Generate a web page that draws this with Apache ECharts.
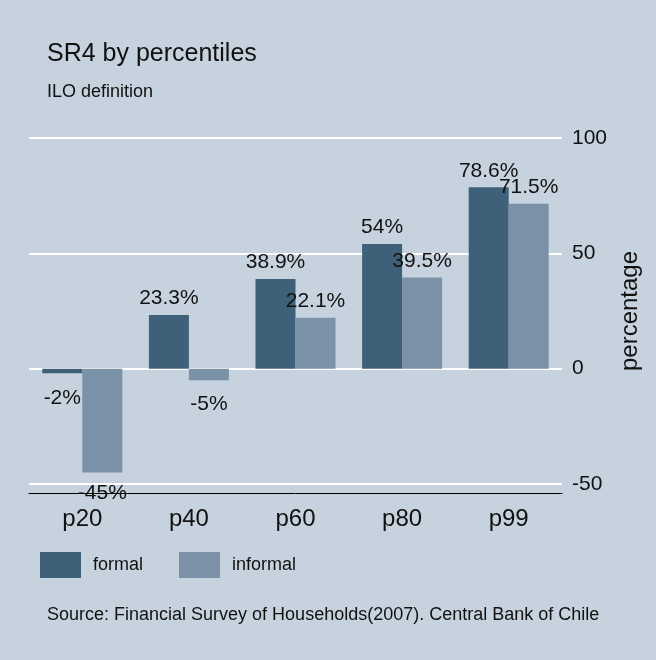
<!DOCTYPE html>
<html>
<head>
<meta charset="utf-8">
<style>
html,body{margin:0;padding:0;background:#c6d3df;}
#chart{width:656px;height:660px;}
</style>
<script src="https://cdn.jsdelivr.net/npm/echarts@6/dist/echarts.min.js"></script>
</head>
<body>
<div id="chart"></div>
<script>
const categories = ['p20', 'p40', 'p60', 'p80', 'p99'];
const formal = [-2, 23.3, 38.9, 54, 78.6];
const informal = [-45, -5, 22.1, 39.5, 71.5];
const yMin = -50, yMax = 100, yStep = 50;

const FONT = '"Liberation Sans", Arial, Helvetica, sans-serif';
const TXT = '#111111';

function makeData(vals, name) {
  return vals.map(function (v, i) {
    let dist = v < 0 ? 14 : 6;
    if (name === 'informal' && i === 0) dist = 10;
    return {
      value: v,
      label: { position: v < 0 ? 'bottom' : 'top', distance: dist }
    };
  });
}

const labelStyle = {
  show: true,
  fontSize: 21,
  fontFamily: FONT,
  color: TXT,
  formatter: function (p) { return p.value + '%'; }
};

const chart = echarts.init(document.getElementById('chart'), null, { renderer: 'canvas' });
chart.setOption({
  backgroundColor: '#c6d3df',
  animation: false,
  title: [
    { text: 'SR4 by percentiles', left: 47, top: 42, padding: 0,
      textStyle: { fontSize: 25, fontWeight: 'normal', color: TXT, fontFamily: FONT } },
    { text: 'ILO definition', left: 47, top: 83, padding: 0,
      textStyle: { fontSize: 18, fontWeight: 'normal', color: TXT, fontFamily: FONT } },
    { text: 'Source: Financial Survey of Households(2007). Central Bank of Chile', left: 47, top: 606, padding: 0,
      textStyle: { fontSize: 18, fontWeight: 'normal', color: TXT, fontFamily: FONT } }
  ],
  legend: {
    data: ['formal', 'informal'],
    left: 40, top: 552, padding: 0,
    icon: 'rect', itemWidth: 41, itemHeight: 26, itemGap: 36,
    textStyle: { fontSize: 18, color: TXT, fontFamily: FONT, padding: [0, 0, 0, 7] }
  },
  grid: { left: 29, width: 533, top: 138, height: 346, containLabel: false },
  xAxis: {
    type: 'category',
    data: categories,
    position: 'bottom',
    offset: 9,
    axisLine: { show: true, onZero: false, lineStyle: { color: '#000', width: 1 } },
    axisTick: { show: false },
    splitLine: { show: false },
    axisLabel: { fontSize: 24, color: TXT, fontFamily: FONT, margin: 14 }
  },
  yAxis: {
    type: 'value',
    position: 'right',
    min: yMin, max: yMax, interval: yStep,
    name: 'percentage',
    nameLocation: 'middle',
    nameRotate: 90,
    nameGap: 56,
    nameTextStyle: { fontSize: 24, color: TXT, fontFamily: FONT },
    axisLine: { show: false },
    axisTick: { show: false },
    axisLabel: { fontSize: 21, color: TXT, fontFamily: FONT, margin: 10 },
    splitLine: { show: true, lineStyle: { color: '#ffffff', width: 2 } }
  },
  series: [
    { name: 'formal', type: 'bar', data: makeData(formal, 'formal'),
      barWidth: 40, barGap: '0%',
      itemStyle: { color: '#3e6179' }, label: labelStyle },
    { name: 'informal', type: 'bar', data: makeData(informal, 'informal'),
      barWidth: 40, barGap: '0%',
      itemStyle: { color: '#7b91a8' }, label: labelStyle }
  ]
});
</script>
</body>
</html>
